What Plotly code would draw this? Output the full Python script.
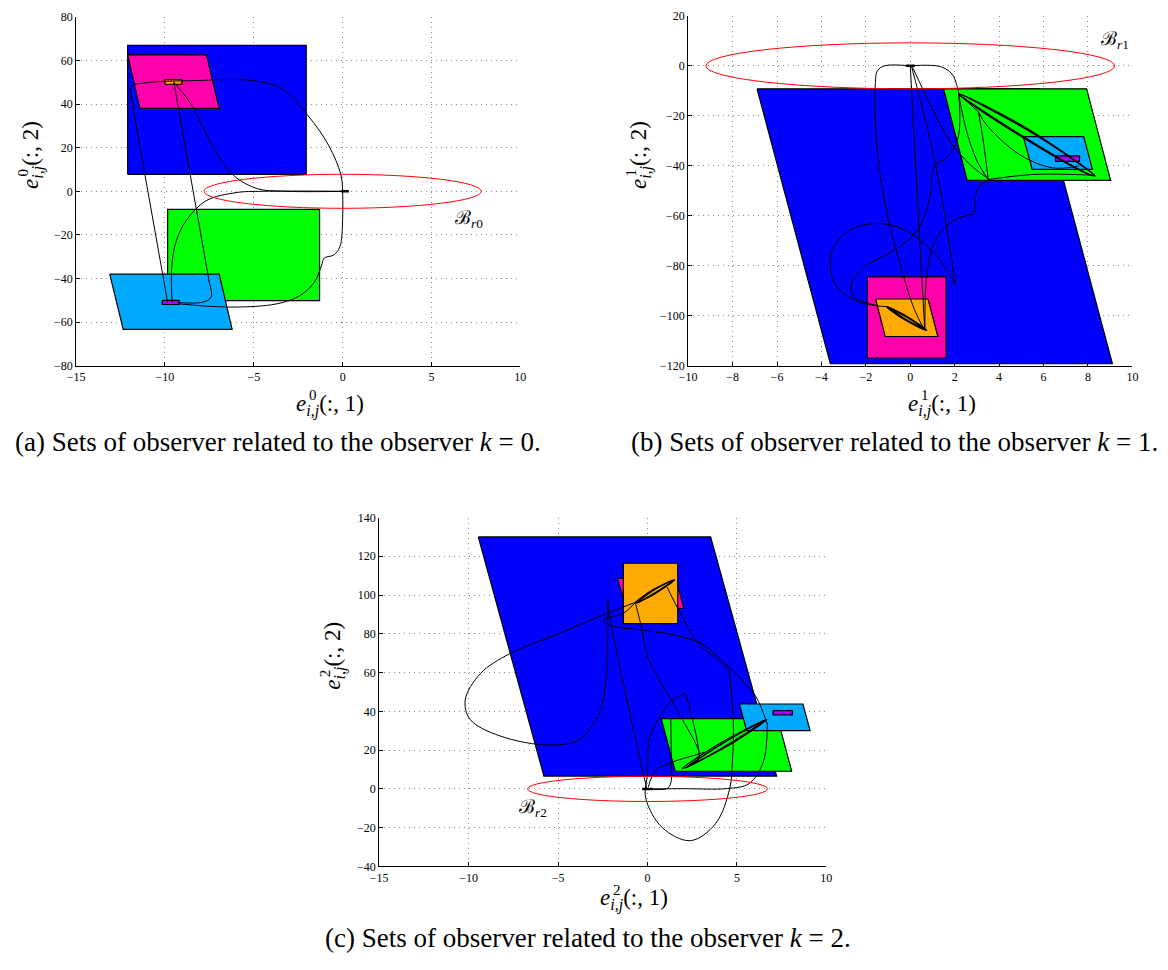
import plotly.graph_objects as go

W, H = 1168, 970

# ---------------- data: subplot (a) ----------------
a_blue_x = [-12.1, -2.05, -2.05, -12.1]
a_blue_y = [7.8, 7.8, 66.9, 66.9]
a_magenta_x = [-12.1, -7.67, -6.95, -11.41]
a_magenta_y = [62.6, 62.6, 38.0, 38.0]
a_orange_x = [-10.0, -9.05, -9.05, -10.0]
a_orange_y = [49.1, 49.1, 51.2, 51.2]
a_green_x = [-9.85, -1.3, -1.3, -9.85]
a_green_y = [-50.1, -50.1, -8.3, -8.3]
a_lblue_x = [-13.11, -6.95, -6.22, -12.35]
a_lblue_y = [-38.0, -38.0, -63.3, -63.3]
a_purple_x = [-10.15, -9.2, -9.2, -10.15]
a_purple_y = [-50.0, -50.0, -51.9, -51.9]
a_ball_r = [7.8, 7.8]
a_label_pos = [7.1, -12.6]

a_traj = [
    ([-9.5, -8.6, -7.9, -7.1, -6.1, -4.8, -3.4, 0.3],
     [50.0, 40.8, 30.0, 17.5, 7.0, 1.2, 0.05, 0.0]),
    ([0.0, -0.1, -0.8, -1.95, -3.4, -5.1, -8.2, -11.0, -11.85, -11.95],
     [0.0, 7.7, 21.2, 34.7, 46.8, 50.8, 50.8, 49.8, 48.3, 45.3]),
    ([-11.95, -9.85], [45.3, -50.9]),
    ([-9.5, -7.5], [50.0, -42.0]),
    ([-7.5, -7.4, -7.85, -9.3], [-42.0, -48.5, -50.8, -51.0]),
    ([-9.6, -9.62, -9.35, -8.8, -7.7, -6.0, -4.5, 0.0],
     [-51.0, -34.4, -22.4, -13.4, -4.4, -0.6, 0.0, 0.0]),
    ([0.0, 0.0, -0.15, -0.5, -1.03, -1.2, -1.6, -2.4, -3.7, -6.4, -9.2],
     [0.0, -12.5, -25.3, -29.2, -30.6, -34.3, -41.8, -47.8, -51.6, -53.1, -51.6]),
]
a_thick = ([-0.1, 0.35], [0.0, 0.0])

# ---------------- data: subplot (b) ----------------
b_blue_x = [-6.9, 5.8, 9.1, -3.6]
b_blue_y = [-9.2, -9.2, -119.2, -119.2]
b_green_x = [1.5, 7.94, 9.02, 2.56]
b_green_y = [-9.2, -9.2, -45.8, -45.8]
b_lblue_x = [5.09, 7.81, 8.2, 5.49]
b_lblue_y = [-28.3, -28.3, -41.4, -41.4]
b_purple_x = [6.54, 7.62, 7.62, 6.54]
b_purple_y = [-36.0, -36.0, -38.2, -38.2]
b_magenta_x = [-1.93, 1.61, 1.61, -1.93]
b_magenta_y = [-84.4, -84.4, -116.9, -116.9]
b_orange_x = [-1.56, 0.8, 1.24, -1.13]
b_orange_y = [-93.3, -93.3, -108.3, -108.3]
b_ball_r = [9.2, 9.2]
b_label_pos = [9.2, 10.5]

b_traj = [
    ([0.0, -1.16, -1.48, -1.57, -1.53, -1.1, -0.5, 0.18, 0.62],
     [0.0, 0.0, -2.0, -6.6, -30.0, -57.0, -78.0, -97.4, -105.3]),
    ([0.0, 1.36, 1.88, 2.1, 2.18, 2.15, 1.66, 1.07, 0.92, 0.32, -0.71, -2.04, -2.64, -2.56, -1.45],
     [0.0, -0.3, -3.3, -7.9, -11.2, -28.9, -36.8, -40.1, -51.3, -65.8, -73.7, -80.3, -86.9, -92.1, -96.1]),
    ([0.05, 1.14, 2.03], [0.0, -39.5, -87.5]),
    ([2.03, 1.21, 0.03, -1.2, -2.6, -3.45, -3.6, -3.3, -2.4, -1.45, -1.08],
     [-87.5, -76.3, -67.1, -63.2, -65.2, -72.5, -80.5, -88.5, -94.2, -96.1, -96.3]),
    ([0.0, 0.65], [0.0, -105.5]),
    ([0.1, 0.92, 1.8, 2.69, 3.55], [-0.5, -15.8, -30.3, -39.5, -45.4]),
    ([3.55, 3.07, 2.92, 2.87], [-45.4, -48.7, -54.0, -59.2]),
    ([2.87, 1.96, 1.21, 0.77, 0.66], [-59.2, -61.9, -68.4, -81.6, -105.3]),
    ([2.18, 3.07], [-11.2, -18.4]),
    ([3.07, 3.29, 3.51], [-18.4, -30.3, -45.5]),
    ([3.07, 3.44, 4.92, 6.4, 7.58], [-18.4, -23.7, -35.5, -40.8, -40.1]),
    ([3.51, 5.66, 8.32], [-45.5, -43.4, -43.8]),
    ([2.18, 2.5, 3.0, 3.51], [-11.2, -25.0, -38.0, -45.5]),
]
b_thick_loops = [
    ([2.18, 4.18, 7.58, 8.32, 5.66, 2.18], [-11.2, -23.7, -41.5, -44.1, -27.7, -11.2]),
    ([2.18, 5.0, 8.0, 8.25, 5.3, 2.18], [-11.2, -27.8, -43.2, -43.8, -25.3, -11.2]),
    ([-1.08, -0.125, 0.74, -0.215, -1.08], [-96.3, -100.4, -105.9, -101.8, -96.3]),
    ([-1.0, -0.1, 0.7, -0.2, -1.0], [-96.6, -100.9, -105.6, -101.4, -96.6]),
]
b_thick = ([-0.2, 0.2], [0.0, 0.0])

# ---------------- data: subplot (c) ----------------
c_blue_x = [-9.46, 3.53, 7.22, -5.79]
c_blue_y = [130.0, 130.0, 6.6, 6.6]
c_green_x = [0.77, 7.28, 8.06, 1.55]
c_green_y = [36.2, 36.2, 9.1, 9.1]
c_lblue_x = [5.14, 8.69, 9.09, 5.54]
c_lblue_y = [43.8, 43.8, 30.1, 30.1]
c_purple_x = [7.02, 8.1, 8.1, 7.02]
c_purple_y = [40.4, 40.4, 38.2, 38.2]
c_magenta_x = [-1.67, 1.57, 2.04, -1.2]
c_magenta_y = [108.6, 108.6, 93.1, 93.1]
c_orange_x = [-1.35, 1.69, 1.69, -1.35]
c_orange_y = [85.3, 85.3, 116.4, 116.4]
c_ball_r = [6.7, 6.5]
c_label_pos = [-6.4, -10.0]

c_traj = [
    ([-0.74, -2.69, -5.09, -7.69, -9.35, -10.19, -9.91, -8.24, -5.46, -3.8, -2.69, -2.31, -2.22, -2.22],
     [96.1, 88.9, 79.6, 69.8, 59.4, 45.9, 35.8, 27.3, 22.6, 25.6, 39.1, 57.7, 83.0, 97.8]),
    ([-2.22, -2.13, -0.05], [97.8, 89.7, 0.5]),
    ([-0.67, -0.3, 0.02, 1.5, 2.85, 2.9, 2.6], [95.7, 82.0, 67.8, 43.0, 20.0, 15.5, 13.8]),
    ([1.1, 2.9, 3.9, 4.58], [104.0, 74.5, 67.0, 61.0]),
    ([4.58, 4.8, 4.75, 4.6, 3.8, 2.4, 0.83, -0.1, 0.0, 0.1, 0.65, 1.3, 2.13],
     [61.0, 34.0, 15.0, 0.3, -18.0, -26.7, -20.0, -4.7, 8.0, 25.6, 36.6, 45.0, 49.3]),
    ([2.13, 2.87, 2.7], [49.3, 17.2, 13.8]),
    ([0.3, 2.0, 4.48, 5.67, 6.47, 6.7], [0.0, 0.1, 0.2, 2.7, 13.7, 34.0]),
    ([0.0, 1.1, 1.3, 1.32, 1.3], [0.0, 0.2, 3.0, 20.0, 36.0]),
    ([0.05, 0.46, 1.39, 2.87, 3.2], [1.0, 9.6, 13.8, 18.0, 19.0]),
    ([-0.74, -1.39, -2.44, -2.22, -0.46, 1.39, 3.0, 3.98, 5.2, 6.07, 6.67],
     [95.6, 90.4, 87.2, 84.7, 82.1, 79.6, 75.0, 67.8, 57.0, 47.5, 34.0]),
]
c_thick_loops = [
    ([1.94, 4.2, 6.67, 4.45, 1.94], [10.5, 24.3, 35.8, 22.0, 10.5]),
    ([2.1, 4.3, 6.6, 4.4, 2.1], [10.6, 24.0, 35.5, 22.4, 10.6]),
    ([-0.74, 0.29, 1.52, 0.45, -0.74], [95.6, 102.65, 107.9, 100.85, 95.6]),
    ([-0.6, 0.33, 1.45, 0.42, -0.6], [95.9, 102.4, 107.6, 101.1, 95.9]),
]
c_thick = ([-0.3, 0.3], [0.0, 0.0])

# ---------------- colours ----------------
BLUE = "#0000FF"
GREEN = "#00FF00"
MAGENTA = "#FF00AA"
LBLUE = "#00AAFF"
ORANGE = "#FFAA00"
PURPLE = "#AA00FF"

FONT = "Liberation Serif"

fig = go.Figure()


def poly(xs, ys, color, xa, ya):
    fig.add_trace(go.Scatter(
        x=xs + xs[:1], y=ys + ys[:1], mode="lines", fill="toself",
        fillcolor=color, line=dict(color="black", width=1.2),
        xaxis=xa, yaxis=ya, showlegend=False, hoverinfo="skip"))


def curve(xs, ys, xa, ya, width=1.0, spline=True):
    fig.add_trace(go.Scatter(
        x=xs, y=ys, mode="lines",
        line=dict(color="black", width=width,
                  shape="spline" if spline else "linear", smoothing=1.0),
        xaxis=xa, yaxis=ya, showlegend=False, hoverinfo="skip"))


# (a)
poly(a_blue_x, a_blue_y, BLUE, "x", "y")
poly(a_magenta_x, a_magenta_y, MAGENTA, "x", "y")
poly(a_orange_x, a_orange_y, ORANGE, "x", "y")
poly(a_green_x, a_green_y, GREEN, "x", "y")
poly(a_lblue_x, a_lblue_y, LBLUE, "x", "y")
poly(a_purple_x, a_purple_y, PURPLE, "x", "y")
for xs, ys in a_traj:
    curve(xs, ys, "x", "y")
curve(a_thick[0], a_thick[1], "x", "y", width=2.5, spline=False)

# (b)
poly(b_blue_x, b_blue_y, BLUE, "x2", "y2")
poly(b_green_x, b_green_y, GREEN, "x2", "y2")
poly(b_lblue_x, b_lblue_y, LBLUE, "x2", "y2")
poly(b_purple_x, b_purple_y, PURPLE, "x2", "y2")
poly(b_magenta_x, b_magenta_y, MAGENTA, "x2", "y2")
poly(b_orange_x, b_orange_y, ORANGE, "x2", "y2")
for xs, ys in b_traj:
    curve(xs, ys, "x2", "y2")
for xs, ys in b_thick_loops:
    curve(xs, ys, "x2", "y2", width=1.4)
curve(b_thick[0], b_thick[1], "x2", "y2", width=2.5, spline=False)

# (c)
poly(c_blue_x, c_blue_y, BLUE, "x3", "y3")
poly(c_green_x, c_green_y, GREEN, "x3", "y3")
poly(c_lblue_x, c_lblue_y, LBLUE, "x3", "y3")
poly(c_purple_x, c_purple_y, PURPLE, "x3", "y3")
poly(c_magenta_x, c_magenta_y, MAGENTA, "x3", "y3")
poly(c_orange_x, c_orange_y, ORANGE, "x3", "y3")
for xs, ys in c_traj:
    curve(xs, ys, "x3", "y3")
for xs, ys in c_thick_loops:
    curve(xs, ys, "x3", "y3", width=1.3)
curve(c_thick[0], c_thick[1], "x3", "y3", width=2.5, spline=False)

# balls (ellipses)
for r, xr, yr in [(a_ball_r, "x", "y"), (b_ball_r, "x2", "y2"), (c_ball_r, "x3", "y3")]:
    fig.add_shape(type="circle", xref=xr, yref=yr, x0=-r[0], x1=r[0], y0=-r[1], y1=r[1],
                  line=dict(color="red", width=1), layer="above")


def px_x(p):
    return p / W


def px_y(p):
    return 1 - p / H


axis_common = dict(
    showgrid=True, gridcolor="#8c8c8c", griddash="1px,4px", gridwidth=1,
    zeroline=False, showline=True, linecolor="black", linewidth=1, mirror=False,
    ticks="inside", ticklen=4, tickcolor="black",
    tickfont=dict(family=FONT, size=12, color="black"),
)

fig.update_layout(
    width=W, height=H, margin=dict(l=0, r=0, t=0, b=0),
    paper_bgcolor="white", plot_bgcolor="white",
    xaxis=dict(domain=[px_x(68), px_x(518)], range=[-15, 10], tick0=-15, dtick=5, anchor="y", **axis_common),
    yaxis=dict(domain=[px_y(364), px_y(10)], range=[-80, 80], tick0=-80, dtick=20, anchor="x", **axis_common),
    xaxis2=dict(domain=[px_x(688), px_x(1138)], range=[-10, 10], tick0=-10, dtick=2, anchor="y2", **axis_common),
    yaxis2=dict(domain=[px_y(364), px_y(9)], range=[-120, 20], tick0=-120, dtick=20, anchor="x2", **axis_common),
    xaxis3=dict(domain=[px_x(375), px_x(828)], range=[-15, 10], tick0=-15, dtick=5, anchor="y3", **axis_common),
    yaxis3=dict(domain=[px_y(872), px_y(518)], range=[-40, 140], tick0=-40, dtick=20, anchor="x3", **axis_common),
)

ann = []


def text(x, y, s, size, xanchor="center", yanchor="middle", angle=0, xr="paper", yr="paper"):
    ann.append(dict(x=x, y=y, xref=xr, yref=yr, text=s, showarrow=False,
                    xanchor=xanchor, yanchor=yanchor, textangle=angle,
                    font=dict(family=FONT, size=size, color="black")))


# axis labels
xlab = "<i>e</i><sub><i>i,j</i></sub>(:, 1)"
ylab = "<i>e</i><sub><i>i,j</i></sub>(:, 2)"
for k, (xl_left, xl_y, yl_x, yl_bot) in enumerate([(289, 404, 24, 187), (909, 404, 640, 187), (597, 906, 330, 695)]):
    text(px_x(xl_left), px_y(xl_y), xlab, 23, xanchor="left")
    text(px_x(xl_left + 19), px_y(xl_y - 10), str(k), 15)
    text(px_x(yl_x), px_y(yl_bot), ylab, 23, yanchor="bottom", angle=-90)
    text(px_x(yl_x - 10), px_y(yl_bot - 19), str(k), 15, angle=-90)

# ball labels
for k, (pos, xr, yr) in enumerate([(a_label_pos, "x", "y"), (b_label_pos, "x2", "y2"), (c_label_pos, "x3", "y3")]):
    text(pos[0], pos[1], "\u212C<sub><i>r</i>%d</sub>" % k, 19, xr=xr, yr=yr)

# captions
text(px_x(272), px_y(441), "(a) Sets of observer related to the observer <i>k</i> = 0.", 27)
text(px_x(897), px_y(441), "(b) Sets of observer related to the observer <i>k</i> = 1.", 27)
text(px_x(587), px_y(945), "(c) Sets of observer related to the observer <i>k</i> = 2.", 27)

fig.update_layout(annotations=ann)
fig.write_html("out.html")
